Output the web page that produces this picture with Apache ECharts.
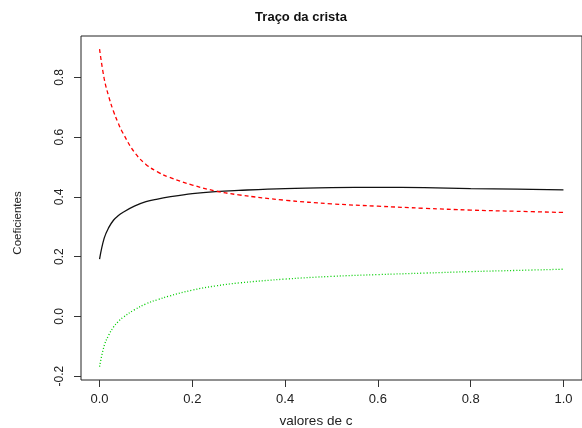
<!DOCTYPE html>
<html>
<head>
<meta charset="utf-8">
<script src="https://cdn.jsdelivr.net/npm/echarts@6/dist/echarts.min.js"></script>
<style>
html,body{margin:0;padding:0;background:#fff;}
#chart{width:582px;height:428px;}
</style>
</head>
<body>
<div id="chart"></div>
<script>
// ridge parameter values (c)
const cValues = [0, 0.01, 0.02, 0.03, 0.04, 0.05, 0.075, 0.1, 0.125, 0.15, 0.2, 0.25, 0.3, 0.4, 0.5, 0.6, 0.7, 0.8, 0.9, 1.0];
// coefficient traces
const coefBlack = [0.192, 0.262, 0.298, 0.322, 0.337, 0.348, 0.369, 0.384, 0.393, 0.400, 0.411, 0.418, 0.422, 0.428, 0.431, 0.432, 0.431, 0.428, 0.426, 0.424];
const coefRed   = [0.895, 0.796, 0.735, 0.687, 0.648, 0.615, 0.550, 0.509, 0.484, 0.466, 0.440, 0.420, 0.407, 0.389, 0.377, 0.369, 0.362, 0.356, 0.352, 0.348];
const coefGreen = [-0.168, -0.098, -0.062, -0.036, -0.018, -0.004, 0.022, 0.042, 0.056, 0.068, 0.088, 0.102, 0.112, 0.125, 0.134, 0.140, 0.145, 0.150, 0.154, 0.158];
// tick labels
const xTicks = [0, 0.2, 0.4, 0.6, 0.8, 1.0];
const yTicks = [-0.2, 0.0, 0.2, 0.4, 0.6, 0.8];

const titleText = 'Traço da crista';
const xName = 'valores de c';
const yName = 'Coeficientes';

const pairs = arr => cValues.map((c, i) => [c, arr[i]]);

const chart = echarts.init(document.getElementById('chart'));
const font = 'Liberation Sans, Arial, sans-serif';
chart.setOption({
  animation: false,
  backgroundColor: '#fff',
  grid: {left: 81, right: -8, top: 36, bottom: 48, show: true, borderColor: '#222', borderWidth: 1, backgroundColor: 'transparent'},
  xAxis: {
    type: 'value', min: -0.04, max: 1.04,
    axisLine: {show: false, onZero: false},
    splitLine: {show: false},
    axisTick: {show: true, inside: false, length: 7, customValues: xTicks, lineStyle: {color: '#333'}},
    axisLabel: {customValues: xTicks, margin: 13, color: '#222', fontFamily: font, fontSize: 13,
      formatter: v => v.toFixed(1)}
  },
  yAxis: {
    type: 'value', min: -0.213, max: 0.939,
    axisLine: {show: false, onZero: false},
    splitLine: {show: false},
    axisTick: {show: true, inside: false, length: 7, customValues: yTicks, lineStyle: {color: '#333'}},
    axisLabel: {customValues: yTicks, rotate: 90, margin: 15, color: '#222', fontFamily: font, fontSize: 12,
      formatter: v => v.toFixed(1)}
  },
  graphic: [
    {type: 'text', x: 301, y: 17, style: {text: titleText, font: 'bold 13px ' + font, fill: '#111', textAlign: 'center', textVerticalAlign: 'middle'}},
    {type: 'text', x: 316, y: 421, style: {text: xName, font: '13.5px ' + font, fill: '#222', textAlign: 'center', textVerticalAlign: 'middle'}},
    {type: 'text', x: 18, y: 223, rotation: Math.PI / 2, style: {text: yName, font: '11.5px ' + font, fill: '#222', textAlign: 'center', textVerticalAlign: 'middle'}}
  ],
  series: [
    {type: 'line', data: pairs(coefBlack), showSymbol: false, smooth: 0.4, lineStyle: {color: '#111', width: 1.3, type: 'solid'}},
    {type: 'line', data: pairs(coefRed), showSymbol: false, smooth: 0.4, lineStyle: {color: '#ff0000', width: 1.3, type: [4, 3]}},
    {type: 'line', data: pairs(coefGreen), showSymbol: false, smooth: 0.4, lineStyle: {color: '#00cd00', width: 1.3, type: [1, 2]}}
  ]
});
</script>
</body>
</html>
